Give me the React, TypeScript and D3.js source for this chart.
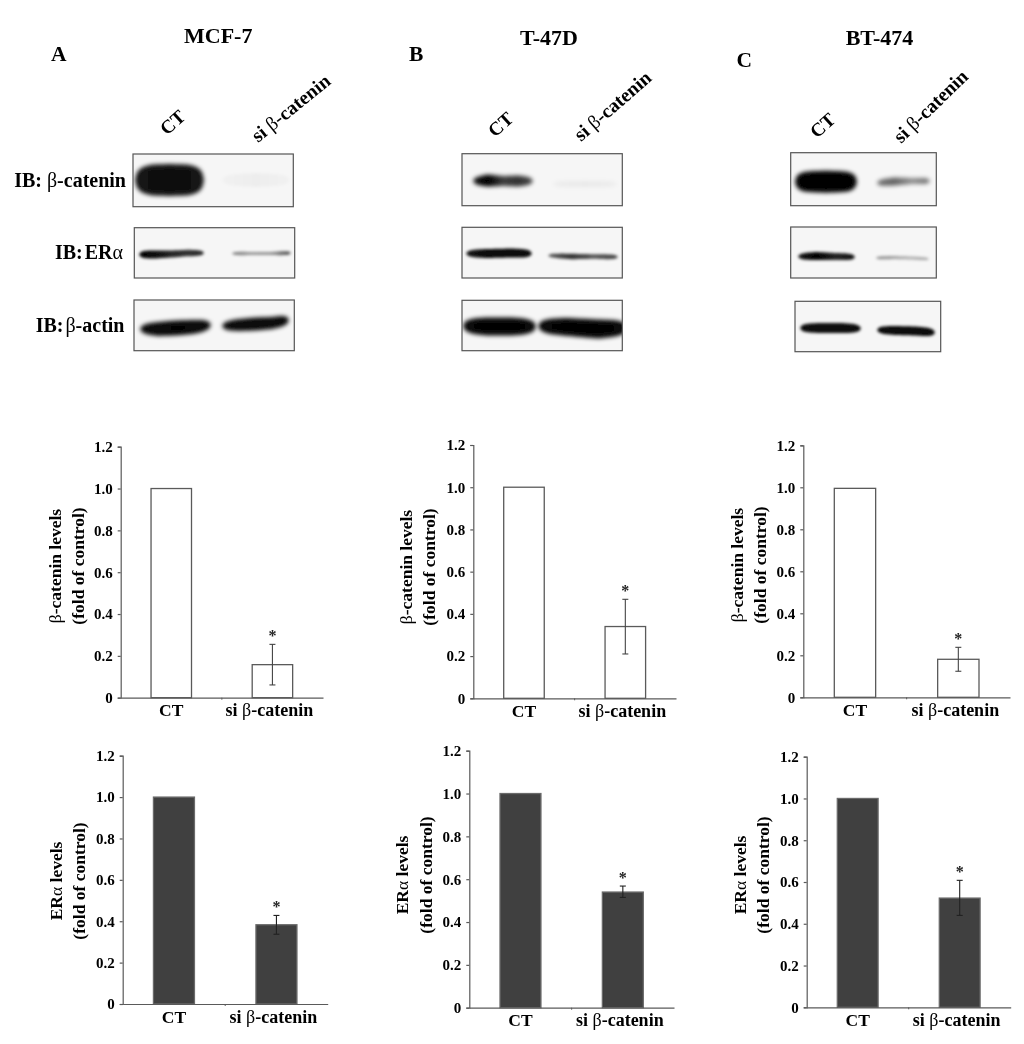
import React, { useEffect, useRef } from "react";
import * as d3 from "d3";

// ---------- data ----------
const cellLines = ["MCF-7", "T-47D", "BT-474"];
const panelLetters = ["A", "B", "C"];
const categories = ["CT", "si β-catenin"];
const yTicks = [0, 0.2, 0.4, 0.6, 0.8, 1.0, 1.2];

const betaCT = [1.0, 1.0, 0.995];
const betaSi = [0.158, 0.34, 0.181];
const betaHi = [0.255, 0.469, 0.238];
const betaLo = [0.061, 0.21, 0.124];

const eraCT = [1.0, 1.0, 1.0];
const eraSi = [0.383, 0.54, 0.523];
const eraHi = [0.428, 0.568, 0.608];
const eraLo = [0.337, 0.515, 0.44];

// ---------- layout ----------
const F = "'Liberation Serif','Times New Roman',serif";
const AX = "#5a5a5a";
const betaLayout = [
  { x0: 120.7, x1: 323, yTop: 446.7, yZero: 697.7, l1: 61, l2: 84, ly: 566 },
  { x0: 473.3, x1: 676, yTop: 445, yZero: 698.3, l1: 412, l2: 434.5, ly: 567 },
  { x0: 803.3, x1: 1010, yTop: 445.3, yZero: 697.3, l1: 743, l2: 765.5, ly: 565 },
];
const eraLayout = [
  { x0: 122.7, x1: 327.7, yTop: 755.7, yZero: 1004, l1: 62, l2: 84.5, ly: 881 },
  { x0: 469.3, x1: 674, yTop: 750.7, yZero: 1007.7, l1: 408, l2: 431.5, ly: 875 },
  { x0: 806.7, x1: 1010.7, yTop: 756.7, yZero: 1007.3, l1: 746, l2: 769, ly: 875 },
];
const titleLayout = [
  { x: 184, y: 43 }, { x: 520, y: 44.7 }, { x: 845.7, y: 44.7 },
];
const letterLayout = [
  { x: 51, y: 61 }, { x: 409, y: 61 }, { x: 736.5, y: 66.7 },
];
const laneLabelLayout = [
  { ct: [167, 136], si: [258, 143], siRot: -39 },
  { ct: [495, 138], si: [581, 142], siRot: -41 },
  { ct: [817, 139], si: [901, 144], siRot: -44 },
];
const ibBaselines = [186.7, 259, 331.7];
const ibRight = [126, 123, 124.5];

type Band = { x: [number, number]; cy: number[]; h: number[]; d: number[]; blur?: number };
type Blot = { x: [number, number]; y: [number, number]; bands: Band[] };
const blots: Blot[] = [
  { x: [133, 293.3], y: [154, 206.7], bands: [
    { x: [135, 204], cy: [180, 180, 180, 180, 180], h: [27, 31, 32, 31, 28], d: [.92, .93, .93, .93, .92], blur: 2.2 },
    { x: [222, 290], cy: [180, 180, 180], h: [10, 14, 10], d: [.02, .035, .02] },
  ]},
  { x: [134.3, 294.7], y: [227.7, 278], bands: [
    { x: [139, 204], cy: [254.5, 254.5, 254, 253, 253], h: [9, 8, 7, 6.5, 6.5], d: [1, .95, .85, .8, .85], blur: 1.5 },
    { x: [232, 291], cy: [253.5, 253.5, 253.5, 253], h: [4, 3, 3, 5], d: [.5, .38, .4, .7], blur: 1.5 },
  ]},
  { x: [134, 294.3], y: [300, 350.7], bands: [
    { x: [140, 211], cy: [329, 329, 328, 327, 325], h: [11, 14, 15, 14, 12], d: [.95, .96, .98, .97, .95], blur: 1.9 },
    { x: [222, 289], cy: [326, 325, 324, 323, 320], h: [10, 12, 13, 12, 12], d: [.95, .96, .97, .96, .97], blur: 1.9 },
  ]},
  { x: [462, 622.3], y: [153.7, 205.7], bands: [
    { x: [473, 533], cy: [181, 180.5, 181, 181, 181], h: [9, 12, 10, 11, 9], d: [.9, 1, .75, .8, .7], blur: 2 },
    { x: [553, 617], cy: [184, 184, 184], h: [6, 6, 6], d: [.04, .05, .04], blur: 2 },
  ]},
  { x: [462, 622.3], y: [227.3, 278], bands: [
    { x: [466, 532], cy: [253.5, 253.5, 253, 253.5], h: [8, 9, 9, 9], d: [.9, .97, .97, .95], blur: 1.7 },
    { x: [548, 618], cy: [255.5, 256.5, 256.5, 257], h: [4.5, 5.5, 4.5, 5.5], d: [.65, .8, .65, .75], blur: 1.7 },
  ]},
  { x: [462, 622.3], y: [300.3, 350.7], bands: [
    { x: [463, 536], cy: [326, 326.5, 326.5, 326.5], h: [15, 18, 18, 15], d: [.97, .98, .98, .97], blur: 2 },
    { x: [538, 628], cy: [326, 327, 329, 328], h: [15, 18, 19, 16], d: [.97, .98, .98, .97], blur: 2 },
  ]},
  { x: [790.7, 936.3], y: [152.7, 205.7], bands: [
    { x: [795, 857], cy: [181.7, 181.7, 181.7], h: [20, 22, 20], d: [1, 1, 1], blur: 2.1 },
    { x: [877, 930], cy: [183, 181.5, 181, 181], h: [7, 8, 6, 7], d: [.55, .6, .42, .55], blur: 2.1 },
  ]},
  { x: [790.7, 936.3], y: [227, 278], bands: [
    { x: [798, 855], cy: [256.5, 256, 256.5, 257], h: [7, 8, 7, 7], d: [.9, 1, .85, .95], blur: 1.6 },
    { x: [876, 929], cy: [258, 257.5, 258, 259], h: [3.5, 3, 3, 3], d: [.45, .35, .28, .35], blur: 1.6 },
  ]},
  { x: [795, 940.7], y: [301.3, 351.7], bands: [
    { x: [800, 861], cy: [328, 328, 328, 328.5], h: [9, 10, 10, 9], d: [.95, .95, .95, .95], blur: 1.6 },
    { x: [877, 935], cy: [330, 330.5, 331, 332.5], h: [8, 9, 9, 9], d: [.97, .97, .97, .97], blur: 1.6 },
  ]},
];

function BlotImage({ blot, idx }: { blot: Blot; idx: number }) {
  const [xa, xb] = blot.x;
  const [ya, yb] = blot.y;
  return (
    <g>
      <clipPath id={`clip${idx}`}>
        <rect x={xa} y={ya} width={xb - xa} height={yb - ya} />
      </clipPath>
      <rect x={xa} y={ya} width={xb - xa} height={yb - ya} fill="#f6f6f6" />
      <g clipPath={`url(#clip${idx})`}>
        {blot.bands.map((b, i) => {
          const n = b.cy.length;
          const pos = d3.range(n).map((k) => k / (n - 1));
          const sx = d3.scaleLinear().domain([0, 1]).range(b.x);
          const sh = d3.scaleLinear().domain(pos).range(b.h);
          const sc = d3.scaleLinear().domain(pos).range(b.cy);
          // rounded band ends: thickness falls off toward both tips
          const taper = (t: number) => Math.sqrt(Math.max(0, 1 - Math.pow(2 * t - 1, 6)));
          const area = d3
            .area<number>()
            .x((t) => sx(t))
            .y0((t) => sc(t) - (sh(t) * taper(t)) / 2)
            .y1((t) => sc(t) + (sh(t) * taper(t)) / 2)
            .curve(d3.curveLinear);
          const ts = d3.range(0, 1 + 1e-6, 1 / 40);
          const grad = `g${idx}_${i}`;
          const fid = `f${idx}_${i}`;
          return (
            <g key={i}>
              <linearGradient id={grad} x1="0" x2="1" y1="0" y2="0">
                {b.d.map((v, k) => (
                  <stop key={k} offset={pos[k]} stopColor="#000" stopOpacity={v} />
                ))}
              </linearGradient>
              <filter id={fid} x="-20%" y="-150%" width="140%" height="400%">
                <feGaussianBlur stdDeviation={b.blur ?? 1.5} />
              </filter>
              <path d={area(ts) ?? ""} fill={`url(#${grad})`} filter={`url(#${fid})`} />
            </g>
          );
        })}
      </g>
      <rect x={xa} y={ya} width={xb - xa} height={yb - ya} fill="none" stroke="#555" strokeWidth={1.2} />
    </g>
  );
}

type L = { x0: number; x1: number; yTop: number; yZero: number; l1: number; l2: number; ly: number };

function BarPanel({ layout, ct, si, hi, lo, dark, label }: {
  layout: L; ct: number; si: number; hi: number; lo: number; dark: boolean; label: React.ReactNode;
}) {
  const yRef = useRef<SVGGElement>(null);
  const xRef = useRef<SVGGElement>(null);
  const y = d3.scaleLinear().domain([0, 1.2]).range([layout.yZero, layout.yTop]);
  const x = d3.scaleBand<string>().domain(categories).range([layout.x0, layout.x1]).paddingInner(0.6).paddingOuter(0.3);
  useEffect(() => {
    const ya = d3.axisLeft(y).tickValues(yTicks).tickSize(3).tickPadding(5)
      .tickFormat((d) => (+d === 0 ? "0" : d3.format(".1f")(+d)));
    const gy = d3.select(yRef.current!).call(ya as any);
    gy.selectAll("path,line").attr("stroke", AX).attr("stroke-width", 1.2);
    gy.selectAll("text").attr("fill", "#000").attr("font-size", 15).attr("font-weight", "bold").attr("font-family", F);
    const xa = d3.axisBottom(x).tickSize(0).tickPadding(9).tickFormat(() => "");
    const gx = d3.select(xRef.current!).call(xa as any);
    gx.selectAll("path").attr("stroke", AX).attr("stroke-width", 1.2);
  }, []);
  const vals = [ct, si];
  const midX = (layout.x0 + layout.x1) / 2;
  const bw = x.bandwidth();
  const cx = x(categories[1])! + bw / 2;
  return (
    <g>
      {vals.map((v, i) => (
        <rect key={i} x={x(categories[i])} y={y(v)} width={bw} height={y(0) - y(v)}
          fill={dark ? "#3f3f3f" : "#fff"} stroke={dark ? "#6a6a6a" : AX} strokeWidth={1.3} />
      ))}
      <g stroke={dark ? "#222" : "#444"} strokeWidth={1.1}>
        <line x1={cx} x2={cx} y1={y(hi)} y2={y(lo)} />
        <line x1={cx - 3} x2={cx + 3} y1={y(hi)} y2={y(hi)} />
        <line x1={cx - 3} x2={cx + 3} y1={y(lo)} y2={y(lo)} />
      </g>
      <text x={cx} y={y(hi) - 3.5} textAnchor="middle" fontFamily={F} fontWeight="bold" fontSize={16} fill="#222">*</text>
      <g ref={yRef} transform={`translate(${layout.x0},0)`} />
      <g ref={xRef} transform={`translate(0,${layout.yZero})`} />
      <line x1={midX} x2={midX} y1={layout.yZero} y2={layout.yZero + 2} stroke={AX} />
      <text x={x(categories[0])! + bw / 2} y={layout.yZero + 18.5} textAnchor="middle" fontFamily={F} fontWeight="bold" fontSize={17.5}>CT</text>
      <text x={cx - 3} y={layout.yZero + 18.5} textAnchor="middle" fontFamily={F} fontWeight="bold" fontSize={18}>
        si <tspan fontWeight="normal">β</tspan>-catenin
      </text>
      <g fontFamily={F} fontWeight="bold" textAnchor="middle">
        <text transform={`translate(${layout.l1},${layout.ly}) rotate(-90)`} fontSize={17.5}>{label}</text>
        <text transform={`translate(${layout.l2},${layout.ly}) rotate(-90)`} fontSize={17.5}>(fold of control)</text>
      </g>
    </g>
  );
}

export default function App() {
  const betaLabel = <><tspan fontWeight="normal">β</tspan>-catenin levels</>;
  const eraLabel = <>ER<tspan fontWeight="normal">α</tspan> levels</>;
  return (
    <svg width={1024} height={1044} viewBox="0 0 1024 1044"
      style={{ position: "absolute", left: 0, top: 0, background: "#fff" }}>
      <filter id="soft" x="0" y="0" width="100%" height="100%">
        <feGaussianBlur stdDeviation={0.35} />
      </filter>
      <rect width={1024} height={1044} fill="#fff" />
      <g filter="url(#soft)">
        {cellLines.map((t, i) => (
          <text key={t} x={titleLayout[i].x} y={titleLayout[i].y} fontFamily={F} fontWeight="bold" fontSize={22}>{t}</text>
        ))}
        {panelLetters.map((t, i) => (
          <text key={t} x={letterLayout[i].x} y={letterLayout[i].y} fontFamily={F} fontWeight="bold" fontSize={21.5}>{t}</text>
        ))}
        {laneLabelLayout.map((p, i) => (
          <g key={i} fontFamily={F} fontWeight="bold" fontSize={17.5}>
            <text transform={`translate(${p.ct[0]},${p.ct[1]}) rotate(-42)`} fontSize={19}>CT</text>
            <text transform={`translate(${p.si[0]},${p.si[1]}) rotate(${p.siRot})`} fontSize={19.5}>
              si <tspan fontWeight="normal">β</tspan>-catenin
            </text>
          </g>
        ))}
        {ibBaselines.map((y, i) => (
          <text key={i} x={ibRight[i]} y={y} textAnchor="end" fontFamily={F} fontWeight="bold" fontSize={20}>
            {i === 0 && <>IB: <tspan fontWeight="normal">β</tspan>-catenin</>}
            {i === 1 && <>IB:<tspan dx={2}>ER</tspan><tspan fontWeight="normal">α</tspan></>}
            {i === 2 && <>IB:<tspan dx={2} fontWeight="normal">β</tspan>-actin</>}
          </text>
        ))}
        {blots.map((b, i) => <BlotImage key={i} blot={b} idx={i} />)}
        {cellLines.map((_, i) => (
          <BarPanel key={`b${i}`} layout={betaLayout[i]} ct={betaCT[i]} si={betaSi[i]} hi={betaHi[i]} lo={betaLo[i]} dark={false} label={betaLabel} />
        ))}
        {cellLines.map((_, i) => (
          <BarPanel key={`e${i}`} layout={eraLayout[i]} ct={eraCT[i]} si={eraSi[i]} hi={eraHi[i]} lo={eraLo[i]} dark={true} label={eraLabel} />
        ))}
      </g>
    </svg>
  );
}
